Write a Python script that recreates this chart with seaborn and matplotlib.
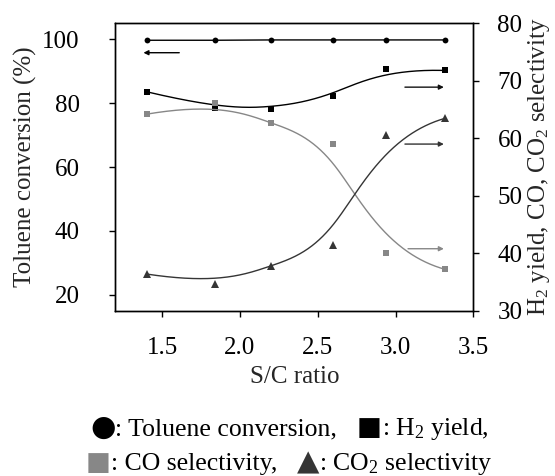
import numpy as np
import pandas as pd
import matplotlib
matplotlib.use("Agg")
import matplotlib.pyplot as plt
import seaborn as sns
from matplotlib.offsetbox import TextArea, HPacker, AnnotationBbox

# ---------------- data ----------------
sc_ratio = [1.40, 1.84, 2.20, 2.60, 2.94, 3.32]
toluene_conv = [99.7, 99.7, 99.8, 99.8, 99.8, 99.8]      # left axis (%)
h2_yield = [68.1, 65.3, 65.1, 67.3, 72.1, 71.8]          # right axis
co_sel = [64.2, 66.2, 62.6, 59.1, 40.0, 37.2]            # right axis
co2_sel = [36.4, 34.6, 37.8, 41.5, 60.6, 63.5]           # right axis

x_ticks = [1.5, 2.0, 2.5, 3.0, 3.5]
left_ticks = [20, 40, 60, 80, 100]
right_ticks = [30, 40, 50, 60, 70, 80]

# arrow annotations (start x, end x, y) indicating which axis a series belongs to
left_arrow = (1.61, 1.38, 95.8)
right_arrows = [(3.06, 3.31, 68.9, "#111111"),
                (3.06, 3.31, 59.0, "#333333"),
                (3.08, 3.31, 40.8, "#888888")]

BLACK = "#000000"
GRAY = "#878787"
DARK = "#353535"

sns.set_theme(style="ticks")
plt.rcParams["font.family"] = ["Liberation Serif", "DejaVu Sans"]
plt.rcParams["mathtext.fontset"] = "custom"
plt.rcParams["mathtext.rm"] = "Liberation Serif"
plt.rcParams["mathtext.it"] = "Liberation Serif:italic"
plt.rcParams["mathtext.bf"] = "Liberation Serif:bold"
FS = 18


def bspline(xp, yp, deg=3, n=400):
    """Clamped B-spline using the data points as control points."""
    P = np.column_stack([xp, yp]).astype(float)
    m = len(P)
    inner = np.linspace(0, 1, m - deg + 1)[1:-1]
    knots = np.concatenate([np.zeros(deg + 1), inner, np.ones(deg + 1)])
    ts = np.linspace(0, 1, n)
    out = []
    for t in ts:
        N = np.zeros(len(knots) - 1)
        for i in range(len(knots) - 1):
            if knots[i] <= t < knots[i + 1]:
                N[i] = 1.0
        if t >= 1.0:
            N[m - 1] = 1.0
        for k in range(1, deg + 1):
            Nn = np.zeros(len(knots) - 1 - k)
            for i in range(len(Nn)):
                a = 0.0
                d1 = knots[i + k] - knots[i]
                if d1 > 0:
                    a += (t - knots[i]) / d1 * N[i]
                d2 = knots[i + k + 1] - knots[i + 1]
                if d2 > 0:
                    a += (knots[i + k + 1] - t) / d2 * N[i + 1]
                Nn[i] = a
            N = Nn
        out.append(N[:m] @ P)
    out = np.array(out)
    return out[:, 0], out[:, 1]


fig = plt.figure(figsize=(5.55, 4.76), dpi=100)
ax = fig.add_axes([0.208, 0.347, 0.645, 0.604])
ax2 = ax.twinx()

df_tol = pd.DataFrame({"x": sc_ratio, "y": toluene_conv})
sns.lineplot(data=df_tol, x="x", y="y", ax=ax, color=BLACK, lw=1.0,
             marker="o", markersize=4.2, markeredgewidth=0, estimator=None)

series = [(h2_yield, BLACK, "s", 4.2), (co_sel, GRAY, "s", 4.2), (co2_sel, DARK, "^", 5.2)]
for vals, col, mk, ms in series:
    xs, ys = bspline(sc_ratio, vals)
    sns.lineplot(x=xs, y=ys, ax=ax2, color=col, lw=1.0, estimator=None, sort=False)
    ax2.plot(sc_ratio, vals, linestyle="none", marker=mk, color=col,
             markersize=ms, markeredgewidth=0)

# arrows
x0, x1, yy = left_arrow
ax.annotate("", xy=(x1, yy), xytext=(x0, yy),
            arrowprops=dict(arrowstyle="-|>", color=BLACK, lw=1.0,
                            mutation_scale=7, shrinkA=0, shrinkB=0))
for a0, a1, yy, col in right_arrows:
    ax2.annotate("", xy=(a1, yy), xytext=(a0, yy),
                 arrowprops=dict(arrowstyle="-|>", color=col, lw=1.0,
                                 mutation_scale=7, shrinkA=0, shrinkB=0))

ax.set_xlim(1.2, 3.5)
ax.set_ylim(15, 105)
ax2.set_ylim(30, 80)
ax.set_xticks(x_ticks)
ax.set_xticklabels([f"{v:.1f}" for v in x_ticks])
ax.set_yticks(left_ticks)
ax2.set_yticks(right_ticks)

for a in (ax, ax2):
    a.tick_params(direction="out", length=4.3, width=1.0, labelsize=FS,
                  colors="black")
    for sp in a.spines.values():
        sp.set_visible(True)
        sp.set_linewidth(1.0)
        sp.set_color("black")
ax.tick_params(axis="x", pad=14.5)
ax.tick_params(axis="y", pad=21.5)
ax2.tick_params(axis="y", pad=13)

ax.set_xlabel("S/C ratio", fontsize=FS, labelpad=5)
ax.set_ylabel("Toluene conversion (%)", fontsize=FS)
ax2.set_ylabel("H$_2$ yield, CO, CO$_2$ selectivity", fontsize=FS)
ax.yaxis.set_label_coords(-0.219, 0.5)
ax2.yaxis.set_label_coords(1.147, 0.5)


# text legend below the plot
def legend_line(parts, y):
    boxes = []
    for txt, col, fam, fs in parts:
        boxes.append(TextArea(txt, textprops=dict(color=col, fontsize=fs, family=fam)))
    pack = HPacker(children=boxes, align="baseline", pad=0, sep=0)
    ab = AnnotationBbox(pack, (0.521, y), xycoords="figure fraction",
                        frameon=False, box_alignment=(0.5, 0.5))
    fig.add_artist(ab)


serif = ["Liberation Serif", "DejaVu Sans"]
sym = ["DejaVu Sans"]
legend_line([("●", BLACK, sym, 21), (": Toluene conversion,   ", BLACK, serif, 18.5),
             ("■", BLACK, sym, 19), (": H$_2$ yield,", BLACK, serif, 18.5)], 0.101)
legend_line([("■", GRAY, sym, 19), (": CO selectivity,   ", BLACK, serif, 18.5),
             ("▲", DARK, sym, 21), (": CO$_2$ selectivity", BLACK, serif, 18.5)], 0.028)

fig.savefig("out.png", dpi=100)
